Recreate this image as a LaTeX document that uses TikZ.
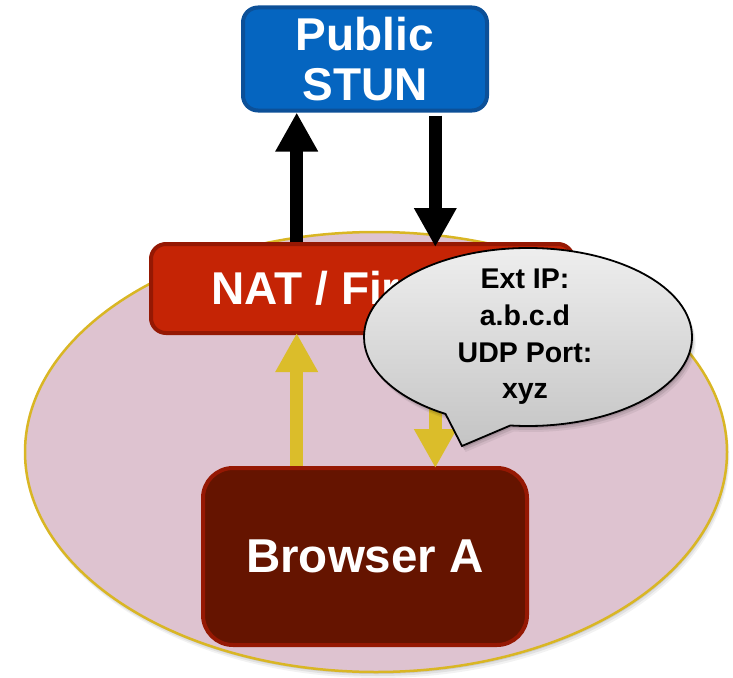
\documentclass[tikz,border=0pt]{standalone}
\usepackage{fontspec}
\setmainfont{Liberation Sans}
\usetikzlibrary{arrows.meta,shapes.geometric,shapes.callouts}

\definecolor{stunfill}{RGB}{5,101,192}
\definecolor{stunedge}{RGB}{12,80,152}
\definecolor{natfill}{RGB}{197,36,5}
\definecolor{redge}{RGB}{149,24,3}
\definecolor{browserfill}{RGB}{101,20,0}
\definecolor{lanfill}{RGB}{222,195,208}
\definecolor{lanedge}{RGB}{217,182,36}
\definecolor{flowyellow}{RGB}{219,189,42}
\definecolor{bubbletop}{RGB}{238,238,238}
\definecolor{bubblebottom}{RGB}{196,196,196}

\begin{document}
\begin{tikzpicture}[x=1pt,y=-1pt,
  box/.style={rectangle, line width=4pt, text=white, align=center,
    font=\bfseries\fontsize{46}{50}\selectfont, inner sep=0pt},
  flow/.style={line width=13.3pt,
    -{Triangle[width=40pt,length=39pt]}},
  bubble/.style={ellipse callout, minimum width=328pt, minimum height=178pt,
    inner sep=0pt, callout pointer arc=24}
]
\useasboundingbox (0,0) rectangle (733,677);

% soft shadow under the local network
\foreach \d/\o in {6/0.05,4/0.07,2/0.09}
  \fill[black,opacity=\o] (376+\d*0.4,452+\d) ellipse [x radius=351, y radius=220];

% local network
\node[ellipse, minimum width=702pt, minimum height=440pt, inner sep=0pt,
  fill=lanfill, draw=lanedge, line width=2.5pt] (lan) at (376,452) {};

% boxes
\node[box, fill=stunfill, draw=stunedge, minimum width=244pt,
  minimum height=103pt, rounded corners=15pt] (stun) at (365,59)
  {Public\\STUN};
\node[box, fill=natfill, draw=redge, minimum width=422pt,
  minimum height=89pt, rounded corners=15pt] (nat) at (362,288.5)
  {NAT / Firewall};
\node[box, fill=browserfill, draw=redge, minimum width=324pt,
  minimum height=177pt, rounded corners=30pt,
  font=\bfseries\fontsize{47.5}{50}\selectfont] (browser) at (365,556.5)
  {Browser A};

% columns of the arrows
\coordinate (left) at (296.7,0);
\coordinate (right) at (435.3,0);

% STUN request and response
\draw[flow, black] (left |- nat.north) -- (left |- stun.south);
\draw[flow, black, shorten <=3pt, shorten >=-5pt] (right |- stun.south) -- (right |- nat.north);

% traffic between browser and NAT
\draw[flow, flowyellow, shorten >=-2pt] (left |- browser.north) -- (left |- nat.south);
\draw[flow, flowyellow, shorten >=-2pt] (right |- nat.south) -- (right |- browser.north);

% callout with the mapped address
\foreach \d/\o in {6/0.06,4/0.09,2/0.12}
  \node[bubble, fill=black, opacity=\o,
    callout absolute pointer={(462+\d*0.6,446+\d)}] at (528+\d*0.6,337+\d) {};
\node[bubble, draw=black, line width=1.8pt, top color=bubbletop,
  bottom color=bubblebottom, callout absolute pointer={(462,446)}]
  (bubble) at (528,337) {};
\node[align=center, font=\bfseries\fontsize{28.5}{36.7}\selectfont]
  (bubbletext) at (525,337) {Ext IP:\\a.b.c.d\\UDP Port:\\xyz};
\end{tikzpicture}
\end{document}
